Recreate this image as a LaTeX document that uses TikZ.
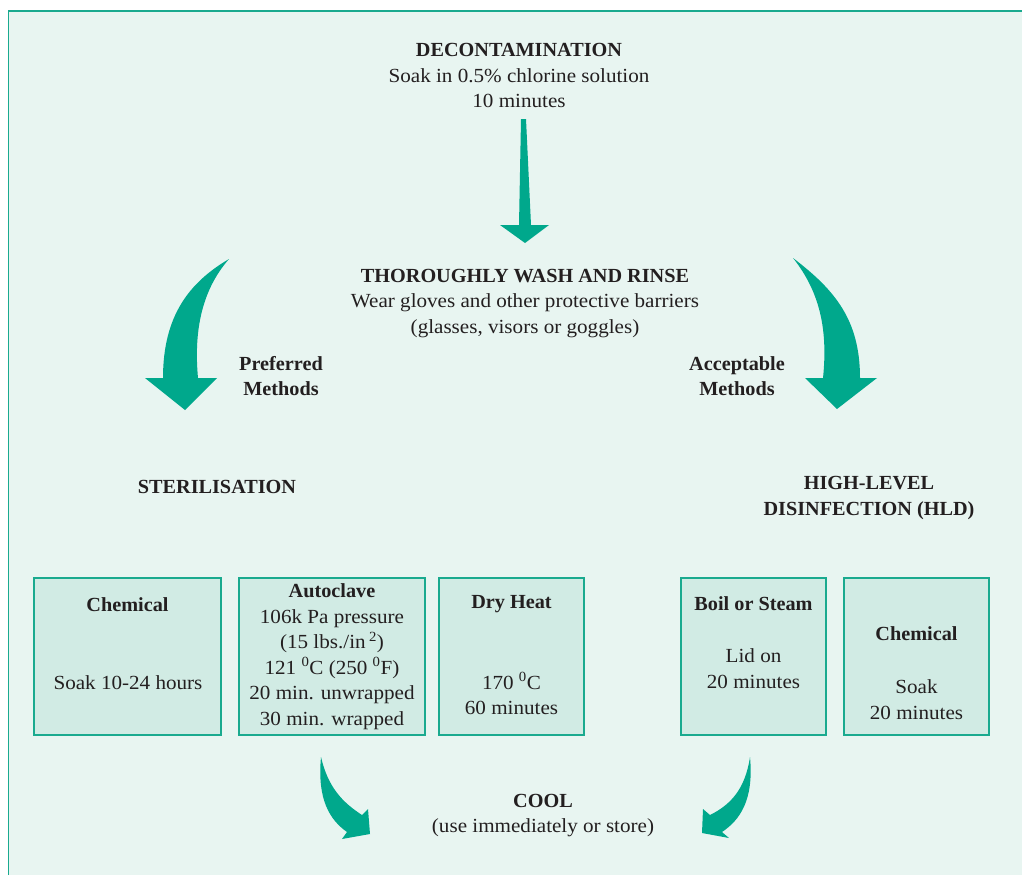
\documentclass[tikz,border=0pt]{standalone}
\usepackage{fontspec}
\setmainfont{Liberation Serif}[FakeStretch=1.055,BoldFeatures={FakeStretch=1.012}]
\definecolor{mint}{HTML}{E8F5F1}
\definecolor{boxfill}{HTML}{D1EBE4}
\definecolor{teal1}{HTML}{1AAA8F}
\definecolor{arrowc}{HTML}{00A88C}
\definecolor{ink}{HTML}{231F20}
\begin{document}
\begin{tikzpicture}[x=1pt,y=-1pt,
  txt/.style={text=ink,align=center,inner sep=0pt,font=\fontsize{20}{25.5}\selectfont},
  btxt/.style={txt,font=\fontsize{20}{25.5}\selectfont\bfseries},
  pbox/.style={draw=teal1,line width=1.2pt,fill=boxfill,minimum height=157pt,inner sep=0pt},
  arr/.style={fill=arrowc,draw=none}]
\useasboundingbox (0,0) rectangle (1022,875);
\fill[mint] (8.5,11) rectangle (1022,875);
\draw[teal1,line width=1.6pt] (8.5,875) -- (8.5,11) -- (1022,11);

% headings
\node[txt] (decon) at (519,75.5) {\textbf{DECONTAMINATION}\\Soak in 0.5\% chlorine solution\\10 minutes};
\node[txt] (wash) at (525,303.5) {\textbf{THOROUGHLY WASH AND RINSE}\\Wear gloves and other protective barriers\\(glasses, visors or goggles)};
\node[btxt] (pref) at (281,376) {Preferred\\Methods};
\node[btxt] (acc) at (737,376) {Acceptable\\Methods};
\node[btxt] (ster) at (217,487) {STERILISATION};
\node[btxt] (hld) at (869,498) {HIGH-LEVEL\\DISINFECTION (HLD)};
\node[txt] (cool) at (543,815.5) {\textbf{COOL}\\(use immediately or store)};

% boxes
\node[pbox,minimum width=187pt] (b1) at (127.5,656.5) {};
\node[pbox,minimum width=186pt] (b2) at (332,656.5) {};
\node[pbox,minimum width=145pt] (b3) at (511.5,656.5) {};
\node[pbox,minimum width=145pt] (b4) at (753.5,656.5) {};
\node[pbox,minimum width=145pt] (b5) at (916.5,656.5) {};

\node[btxt] (t1a) at (127.5,605) {Chemical};
\node[txt] (t1b) at (128,683) {Soak 10-24 hours};
\node[txt] (t2) at (332,656.5) {\textbf{Autoclave}\\106k Pa pressure\\(15 lbs./in\,\textsuperscript{2})\\121 \textsuperscript{0}C (250 \textsuperscript{0}F)\\20 min. unwrapped\\30 min. wrapped};
\node[btxt] (t3a) at (511.5,604) {Dry Heat};
\node[txt] (t3b) at (511.5,693.5) {170 \textsuperscript{0}C\\60 minutes};
\node[btxt] (t4a) at (753.5,604) {Boil or Steam};
\node[txt] (t4b) at (753.5,668.5) {Lid on\\20 minutes};
\node[btxt] (t5a) at (916.5,634) {Chemical};
\node[txt] (t5b) at (916.5,699.5) {Soak\\20 minutes};

% arrows
\fill[arr] (521,119) -- (526,119) -- (531,225) -- (549,225) -- (525,243) -- (500,225) -- (519,225) -- cycle;
\fill[arr] (229,259) .. controls (190,282) and (163,315) .. (163,378) -- (145,378) -- (185,410) -- (217,378) -- (198,378) .. controls (194,335) and (200,292) .. (229,259) -- cycle;
\fill[arr] (793,258) .. controls (835,290) and (860,320) .. (860,378) -- (877,378) -- (837,409) -- (805,378) -- (823,378) .. controls (828,330) and (820,292) .. (793,258) -- cycle;
\fill[arr] (321,757) .. controls (317,800) and (330,820) .. (347,832) -- (342,839) -- (370,834) -- (368,809) -- (362,815) .. controls (342,802) and (328,787) .. (321,757) -- cycle;
\fill[arr] (750,757) .. controls (754,800) and (740,820) .. (722,832) -- (729,838) -- (702,833) -- (703,809) -- (710,815) .. controls (730,805) and (745,790) .. (750,757) -- cycle;
\end{tikzpicture}
\end{document}
